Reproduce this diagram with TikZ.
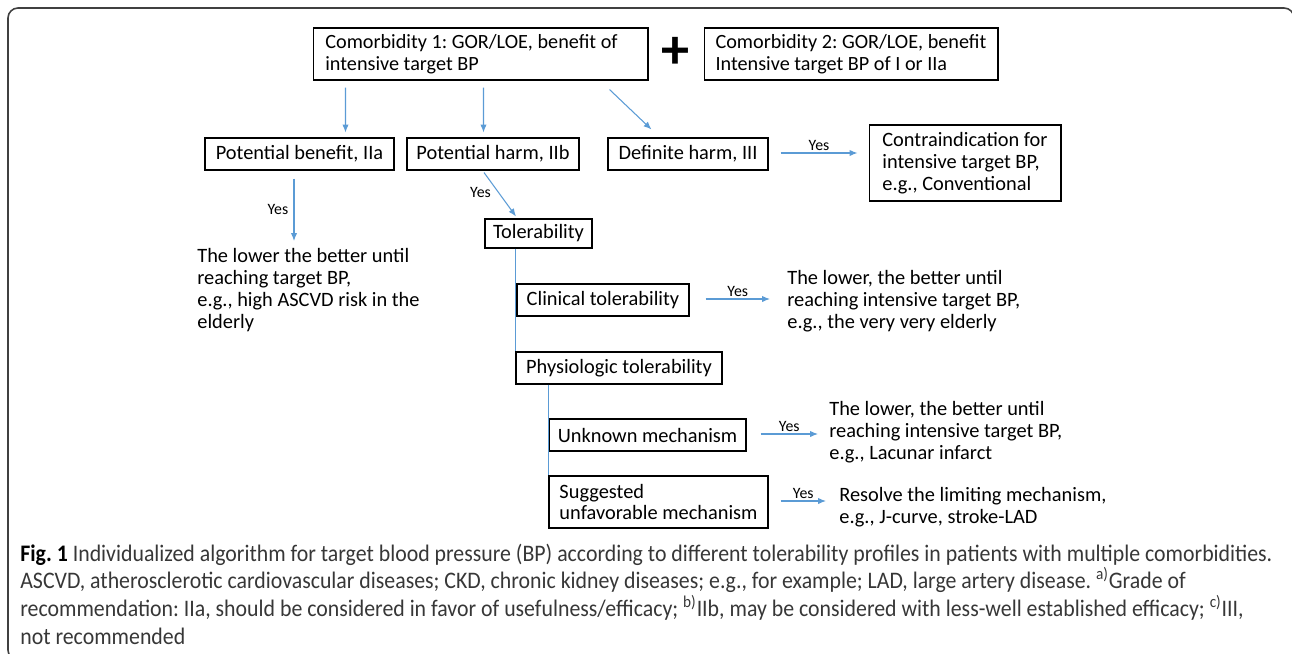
\documentclass[tikz,border=0pt]{standalone}
\usepackage{fontspec}
\setmainfont{Carlito}
\newfontfamily\capfont[FakeStretch=0.92]{Carlito}
\usetikzlibrary{arrows.meta, calc}
\frenchspacing

\definecolor{flowblue}{RGB}{91,155,213}
\definecolor{capgray}{RGB}{55,55,55}

\tikzset{
  box/.style = {draw, line width=0.6pt, inner xsep=0.1cm, inner ysep=0pt, font=\fontsize{11.6}{12.5}\selectfont},
  bigbox/.style = {box, align=left, font=\fontsize{11.5}{12.5}\selectfont},
  note/.style = {anchor=west, align=left, inner sep=0pt, font=\fontsize{11.6}{12.5}\selectfont},
  flow/.style = {->, draw=flowblue, line width=0.6pt},
  yes/.style = {font=\fontsize{9}{10}\selectfont, inner sep=1pt},
}

\begin{document}
\begin{tikzpicture}[x = 0.02cm, y = -0.02cm, >={Latex[length=4.5pt, width=3.6pt]}]
    \useasboundingbox (0, 0) rectangle (1292, 653);
    \begin{scope}
        \clip (0, 0) rectangle (1292, 653);
        \draw [line width=0.9pt, draw=black!75, rounded corners=0.2cm] (8, 8) rectangle (1294, 660);
    \end{scope}

    % top row
    \node [bigbox, minimum width=6.7cm, minimum height=1.04cm] (comA) at (480.5, 54) {Comorbidity 1: GOR/LOE, benefit of\hspace*{0.36cm}\\intensive target BP};
    \node [font=\fontsize{32}{32}\selectfont\bfseries, inner sep=0pt] (plus) at (675, 53) {+};
    \node [bigbox, minimum width=5.88cm, minimum height=1.04cm] (comB) at (851, 54) {Comorbidity 2: GOR/LOE, benefit\\Intensive target BP of I or IIa};

    % grades
    \node [box, minimum width=3.78cm, minimum height=0.64cm] (benefit) at (299.5, 154) {Potential benefit, IIa};
    \node [box, minimum width=3.44cm, minimum height=0.64cm] (harm) at (493, 154) {Potential harm, IIb};
    \node [box, minimum width=3.2cm, minimum height=0.64cm] (definite) at (688, 154) {Definite harm, III};
    \node [box, align=left, minimum width=3.84cm, minimum height=1.52cm] (contra) at (965, 163) {Contraindication for\\intensive target BP,\\e.g., Conventional};
    \node [note] (lowA) at (197, 290) {The lower the better until\\reaching target BP,\\e.g., high ASCVD risk in the\\elderly};

    % tolerability
    \node [box, minimum width=2.14cm, minimum height=0.58cm] (tol) at (538.5, 233.5) {Tolerability};
    \node [box, minimum width=3.44cm, minimum height=0.64cm] (clin) at (603, 300) {Clinical tolerability};
    \node [note] (lowB) at (787, 301) {The lower, the better until\\reaching intensive target BP,\\e.g., the very very elderly};
    \node [box, minimum width=4.12cm, minimum height=0.64cm] (phys) at (619, 368) {Physiologic tolerability};
    \node [box, minimum width=3.94cm, minimum height=0.64cm] (unknown) at (647.5, 435) {Unknown mechanism};
    \node [note] (lowC) at (829, 432) {The lower, the better until\\reaching intensive target BP,\\e.g., Lacunar infarct};
    \node [box, align=left, minimum width=4.38cm, minimum height=1.04cm] (sugg) at (658.5, 502) {Suggested\\unfavorable mechanism};
    \node [note] (resolve) at (839, 507) {Resolve the limiting mechanism,\\e.g., J-curve, stroke-LAD};

    % connectors
    \draw [flow] ($(comA.south west)+(33, 7)$) -- ($(benefit.north west)+(141, -5)$);
    \draw [flow] ($(comA.south west)+(171, 7)$) -- ($(harm.north west)+(77, -5)$);
    \draw [flow] ($(comA.south west)+(297, 9)$) -- ($(definite.north west)+(44, -8)$);
    \draw [flow] ($(definite.east)+(12, -1)$) -- ($(definite.east -| contra.west)+(-11, -1)$) node [yes, midway, above] {Yes};
    \draw [flow] ($(benefit.south)+(-5.5, 8)$) -- ($(benefit.south |- lowA.north)+(-5.5, -7)$) node [yes, midway, left=2pt] {Yes};
    \draw [flow] ($(harm.south)+(-9, 2)$) -- ($(tol.north)+(-22.5, -2)$) node [yes, pos=0.45, left=3pt] {Yes};
    \draw [draw=flowblue, line width=0.6pt] (phys.west |- tol.south) -- (phys.north west);
    \draw [flow] ($(clin.east)+(16, -1)$) -- ($(clin.east -| lowB.west)+(-17, -1)$) node [yes, midway, above] {Yes};
    \draw [draw=flowblue, line width=0.6pt] (sugg.west |- phys.south) -- (sugg.north west);
    \draw [flow] ($(unknown.east)+(14, -1)$) -- ($(unknown.east -| lowC.west)+(-11, -1)$) node [yes, midway, above] {Yes};
    \draw [flow] ($(sugg.east)+(12, -1)$) -- ($(sugg.east -| resolve.west)+(-13, -1)$) node [yes, midway, above] {Yes};

    % caption
    \node [anchor=base west, align=left, inner sep=0pt, text=capgray, font=\capfont\fontsize{13.5}{15.7}\selectfont] (cap) at (20, 644) {{\color{black}\bfseries Fig. 1} Individualized algorithm for target blood pressure (BP) according to different tolerability profiles in patients with multiple comorbidities.\\ASCVD, atherosclerotic cardiovascular diseases; CKD, chronic kidney diseases; e.g., for example; LAD, large artery disease. \textsuperscript{a)}Grade of\\recommendation: IIa, should be considered in favor of usefulness/efficacy; \textsuperscript{b)}IIb, may be considered with less-well established efficacy; \textsuperscript{c)}III,\\not recommended};
\end{tikzpicture}
\end{document}
